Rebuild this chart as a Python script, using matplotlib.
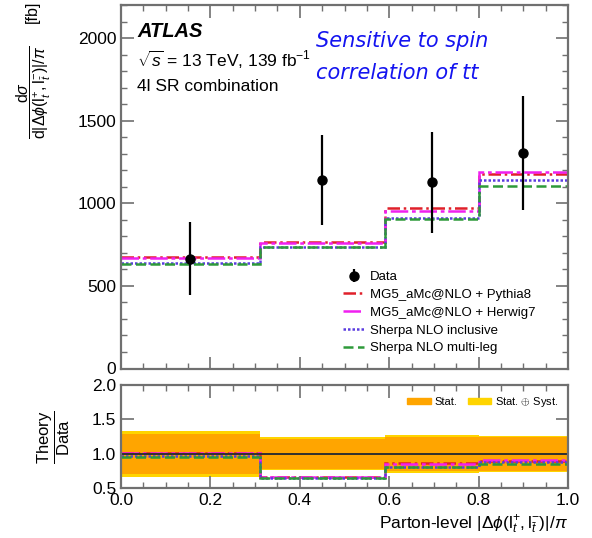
import numpy as np
import matplotlib
matplotlib.use("Agg")
import matplotlib.pyplot as plt
from matplotlib.patches import Patch
from matplotlib.ticker import MultipleLocator

plt.rcParams['font.family'] = ['Liberation Sans', 'DejaVu Sans']
plt.rcParams['mathtext.fontset'] = 'custom'
plt.rcParams['mathtext.rm'] = 'Liberation Sans'
plt.rcParams['mathtext.it'] = 'Liberation Sans:italic'
plt.rcParams['mathtext.bf'] = 'Liberation Sans:bold'

# ---- data ----
bin_edges = [0.0, 0.31, 0.59, 0.80, 1.0]
data_values = [663, 1141, 1127, 1302]
data_errors = [221, 273, 305, 345]
stat_rel = [0.29, 0.22, 0.245, 0.25]

pred_labels = ["MG5_aMc@NLO + Pythia8", "MG5_aMc@NLO + Herwig7",
               "Sherpa NLO inclusive", "Sherpa NLO multi-leg"]
pred_pythia8 = [673, 766, 974, 1175]
pred_herwig7 = [670, 762, 955, 1187]
pred_sherpa_incl = [640, 738, 909, 1141]
pred_sherpa_ml = [635, 734, 907, 1106]

edges = np.array(bin_edges)
centers = 0.5 * (edges[:-1] + edges[1:])
data = np.array(data_values, dtype=float)
tot_rel = np.array(data_errors) / data
stat_rel = np.array(stat_rel)

preds = [pred_pythia8, pred_herwig7, pred_sherpa_incl, pred_sherpa_ml]
colors = ['#e0202a', '#f020f0', '#5a3ce0', '#2e9a3a']
dashes = [(5, 1.5, 1, 1.5), (7, 1.5, 1.5, 1.5), (1, 0.8), (4, 1.8)]

W, H = 592, 538
fig = plt.figure(figsize=(W / 100, H / 100), dpi=100)

def fx(px):
    return px / W

def fy(py):
    return 1 - py / H

ax = fig.add_axes([fx(121), fy(368.5), fx(568) - fx(121), fy(5) - fy(368.5)])
axr = fig.add_axes([fx(121), fy(488.3), fx(568) - fx(121), fy(385) - fy(488.3)])

spine_col = '#707070'
for a in (ax, axr):
    for s in a.spines.values():
        s.set_color(spine_col)
        s.set_linewidth(1.6)
    a.tick_params(which='both', direction='in', top=True, right=True,
                  color=spine_col, labelsize=12.5)
    a.tick_params(which='major', length=9, width=1.2)
    a.tick_params(which='minor', length=4.5, width=1.0)
    a.set_xlim(0, 1)
    a.xaxis.set_major_locator(MultipleLocator(0.2))
    a.xaxis.set_minor_locator(MultipleLocator(0.05))

# ---- main panel ----
for vals, c, d, lab in zip(preds, colors, dashes, pred_labels):
    ax.stairs(vals, edges, baseline=None, color=c, linewidth=1.8,
              linestyle=(0, d), label=lab)
ax.errorbar(centers, data, yerr=data_errors, fmt='o', color='black',
            markersize=6.5, elinewidth=1.6, capsize=0, label='Data')

ax.set_ylim(0, 2200)
ax.yaxis.set_major_locator(MultipleLocator(500))
ax.yaxis.set_minor_locator(MultipleLocator(100))
ax.tick_params(axis='x', labelbottom=False)

h, l = ax.get_legend_handles_labels()
order = [l.index('Data')] + [l.index(p) for p in pred_labels]
ax.legend([h[i] for i in order], [l[i] for i in order], loc='upper left',
          bbox_to_anchor=(0.497, 0.268), borderpad=0, borderaxespad=0,
          frameon=False, fontsize=9.5, handlelength=1.6, handletextpad=0.4,
          labelspacing=0.42)

ax.text(0.036, 0.926, 'ATLAS', transform=ax.transAxes, fontsize=14.5,
        fontweight='bold', fontstyle='italic', va='center', ha='left')
ax.text(0.036, 0.849, r'$\sqrt{s}$ = 13 TeV, 139 fb$^{-1}$', transform=ax.transAxes,
        fontsize=12.5, va='center', ha='left')
ax.text(0.036, 0.777, '4l SR combination', transform=ax.transAxes,
        fontsize=12.5, va='center', ha='left')
ax.text(0.436, 0.900, 'Sensitive to spin', transform=ax.transAxes,
        fontsize=15, family='DejaVu Sans', fontstyle='oblique', color='#1414f0',
        va='center', ha='left')
ax.text(0.436, 0.812, 'correlation of tt', transform=ax.transAxes,
        fontsize=15, family='DejaVu Sans', fontstyle='oblique', color='#1414f0',
        va='center', ha='left')

ax.set_ylabel(r'$\dfrac{\mathrm{d}\sigma}{\mathrm{d}|\Delta\phi(\mathrm{l}_{t}^{+},\mathrm{l}_{\bar{t}}^{-})|/\pi}$',
              fontsize=11.5)
ax.yaxis.set_label_coords(-0.152, 0.761)
fig.text(fx(32), fy(12), '[fb]', rotation=90, fontsize=11.5, ha='center', va='center')

# ---- ratio panel ----
axr.stairs(1 + tot_rel, edges, baseline=1 - tot_rel, fill=True,
           color='#ffd400', linewidth=0)
axr.stairs(1 + stat_rel, edges, baseline=1 - stat_rel, fill=True,
           color='#ffa500', linewidth=0)
axr.axhline(1.0, color='#303030', linewidth=1.4)
for vals, c, d in zip(preds, colors, dashes):
    axr.stairs(np.array(vals) / data, edges, baseline=None, color=c,
               linewidth=1.8, linestyle=(0, d))

axr.set_ylim(0.5, 2.0)
axr.yaxis.set_major_locator(MultipleLocator(0.5))
axr.yaxis.set_minor_locator(MultipleLocator(0.5))
axr.xaxis.set_major_formatter(matplotlib.ticker.FormatStrFormatter('%.1f'))
axr.yaxis.set_major_formatter(matplotlib.ticker.FormatStrFormatter('%.1f'))

axr.legend([Patch(color='#ffa500'), Patch(color='#ffd400')],
           ['Stat.', 'Stat. $\\oplus$ Syst.'], loc='upper right', ncol=2,
           frameon=False, fontsize=8, handlelength=2.1, handleheight=0.55,
           handletextpad=0.3, columnspacing=1.0, borderaxespad=0.5)

axr.set_ylabel(r'$\dfrac{\mathrm{Theory}}{\mathrm{Data}}$', fontsize=12)
axr.yaxis.set_label_coords(-0.11, 0.5)
axr.set_xlabel(r'Parton-level $|\Delta\phi(\mathrm{l}_{t}^{+},\mathrm{l}_{\bar{t}}^{-})|/\pi$',
               fontsize=12.5, loc='right', labelpad=4)

fig.savefig('out.png', dpi=100)
